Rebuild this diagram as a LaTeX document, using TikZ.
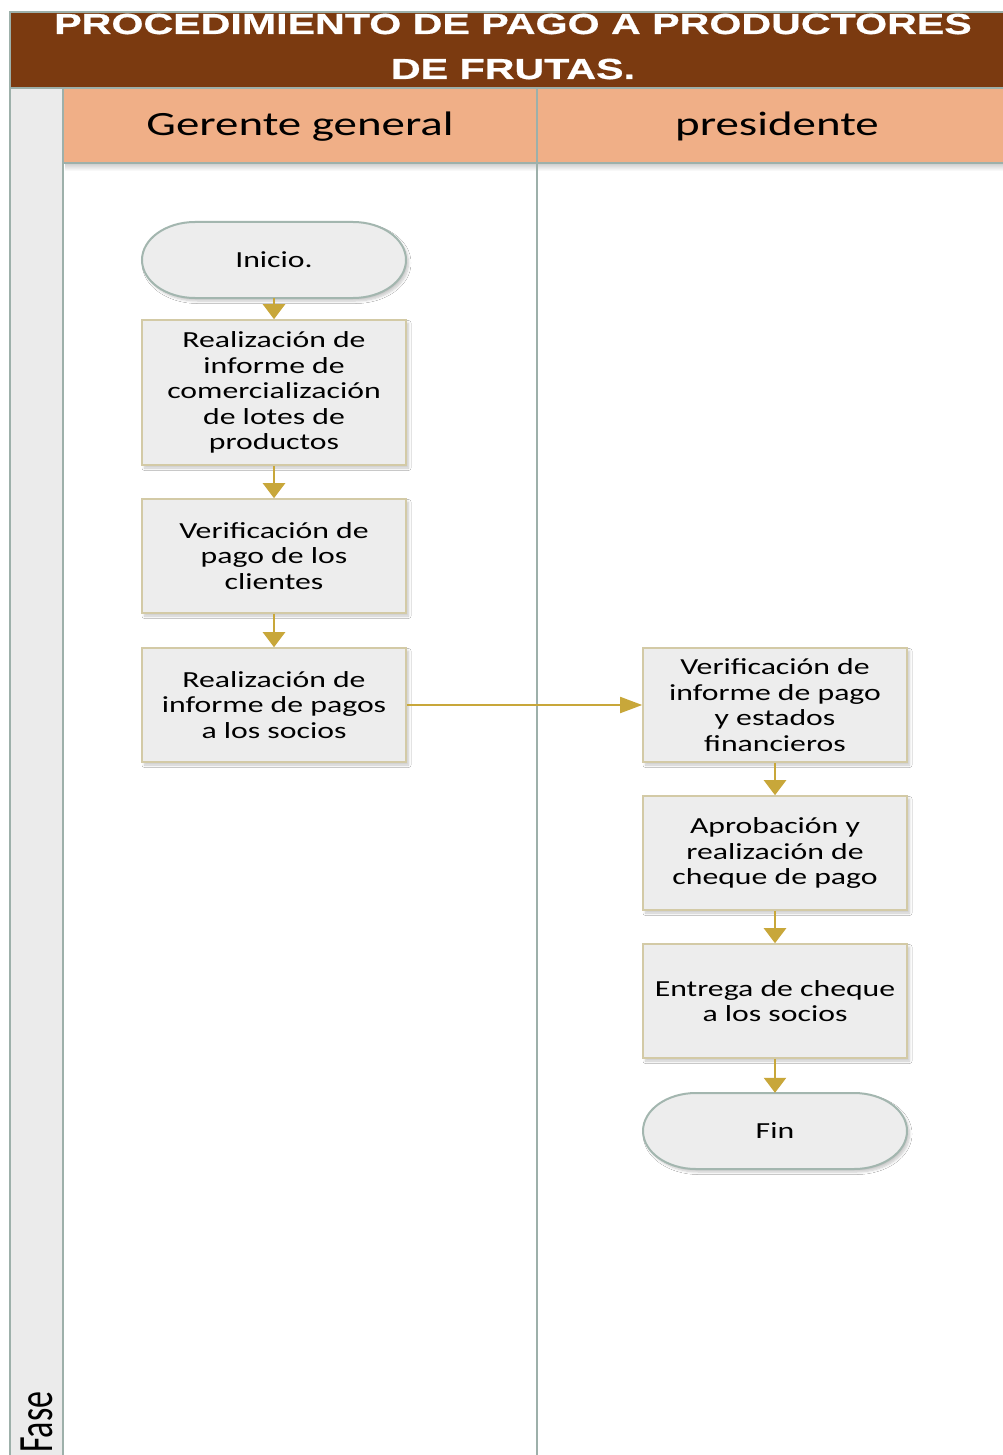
\documentclass[tikz,border=0pt]{standalone}
\usepackage{fontspec}
\usetikzlibrary{arrows.meta,shadows.blur}
\setmainfont{Carlito}
\newfontfamily\boxfont[FakeStretch=1.38]{Carlito}
\newfontfamily\titlefont[FakeStretch=1.42, FakeBold=0.7]{Liberation Sans Bold}

\definecolor{titlebrown}{HTML}{7B3A10}
\definecolor{headsalmon}{HTML}{F0AF87}
\definecolor{laneline}{HTML}{9DB0AA}
\definecolor{boxfill}{HTML}{EDEDED}
\definecolor{boxedge}{HTML}{D3CAA6}
\definecolor{termedge}{HTML}{A3B6AF}
\definecolor{flowgold}{HTML}{C8A73A}
\definecolor{phasefill}{HTML}{EBEBEB}

\tikzset{
  softshadow/.style={blur shadow={shadow xshift=2.5pt, shadow yshift=-3pt,
      shadow blur radius=2.5pt, shadow opacity=22, shadow blur steps=6}},
  procbox/.style={rectangle, draw=boxedge, line width=1.6pt, fill=boxfill,
      minimum width=264pt, minimum height=114pt, align=center, inner sep=2pt,
      font=\boxfont\fontsize{23}{25.5}\selectfont, softshadow},
  termshape/.style={draw=termedge, line width=2pt, fill=boxfill, softshadow},
  termnode/.style={rectangle, minimum width=264pt, minimum height=76pt,
      inner sep=0pt, font=\boxfont\fontsize{23}{25.5}\selectfont},
  flow/.style={draw=flowgold, line width=2.4pt, -{Triangle[length=15pt,width=22pt]}},
  hflow/.style={draw=flowgold, line width=1.8pt, -{Triangle[length=22pt,width=16pt]}},
  lanestroke/.style={draw=laneline, line width=2.4pt},
  headtext/.style={anchor=base, font=\boxfont\fontsize{34}{34}\selectfont},
  titletext/.style={anchor=base, text=white, inner sep=0pt,
      font=\titlefont\fontsize{29}{29}\selectfont}
}

\begin{document}
\begin{tikzpicture}[x=1pt,y=-1pt]
\useasboundingbox (0,0) rectangle (1002,1455);
\fill[white] (0,0) rectangle (1002,1455);

% title band
\fill[titlebrown] (10,12) rectangle (1030,88);
\begin{scope}
  \clip (10,12) rectangle (1030,88);
  \node[titletext] (title1) at (513,34) {PROCEDIMIENTO DE PAGO A PRODUCTORES};
  \node[titletext] (title2) at (513,79) {DE FRUTAS.};
\end{scope}
\draw[laneline, line width=1.2pt] (1030,12) -- (10,12) -- (10,88);

% phase column and lane headers
\fill[phasefill] (10,88) rectangle (63,1460);
\fill[headsalmon] (63,88) rectangle (1030,163);
\shade[top color=black!18, bottom color=white] (65,164) rectangle (1030,171);
\draw[lanestroke] (10,88) -- (10,1460);
\draw[lanestroke] (63,88) -- (63,1460);
\draw[lanestroke] (537,88) -- (537,1460);
\draw[lanestroke] (10,88) -- (1030,88);
\draw[lanestroke] (63,163) -- (1030,163);

\node[headtext] (laneA) at (300,136) {Gerente general};
\node[headtext] (laneB) at (777,136) {presidente};
\node[rotate=90, anchor=base west, inner sep=0pt] (phase) at (52,1453)
  {\scalebox{1}[1.45]{\fontsize{34}{34}\selectfont Fase}};

% start terminal
\path[termshape] (274,260) ++(-79,-38) -- ++(158,0)
  arc[start angle=-90, end angle=90, x radius=53, y radius=38] -- ++(-158,0)
  arc[start angle=90, end angle=270, x radius=53, y radius=38] -- cycle;
\node[termnode] (start) at (274,260) {Inicio.};

% process steps, first lane
\node[procbox, minimum height=145pt] (s1) at (274,392.5)
  {Realización de\\informe de\\comercialización\\de lotes de\\productos};
\node[procbox] (s2) at (274,556) {Verificación de\\pago de los\\clientes};
\node[procbox] (s3) at (274,705) {Realización de\\informe de pagos\\a los socios};

% process steps, second lane
\node[procbox] (s4) at (775,705) {Verificación de\\informe de pago\\y estados\\financieros};
\node[procbox] (s5) at (775,853) {Aprobación y\\realización de\\cheque de pago};
\node[procbox] (s6) at (775,1001) {Entrega de cheque\\a los socios};

% end terminal
\path[termshape] (775,1131) ++(-79,-38) -- ++(158,0)
  arc[start angle=-90, end angle=90, x radius=53, y radius=38] -- ++(-158,0)
  arc[start angle=90, end angle=270, x radius=53, y radius=38] -- cycle;
\node[termnode] (stop) at (775,1131) {Fin};

% connectors
\draw[flow] (start) -- (s1);
\draw[flow] (s1) -- (s2);
\draw[flow] (s2) -- (s3);
\draw[hflow] (s3) -- (s4);
\draw[flow] (s4) -- (s5);
\draw[flow] (s5) -- (s6);
\draw[flow] (s6) -- (stop);
\end{tikzpicture}
\end{document}
